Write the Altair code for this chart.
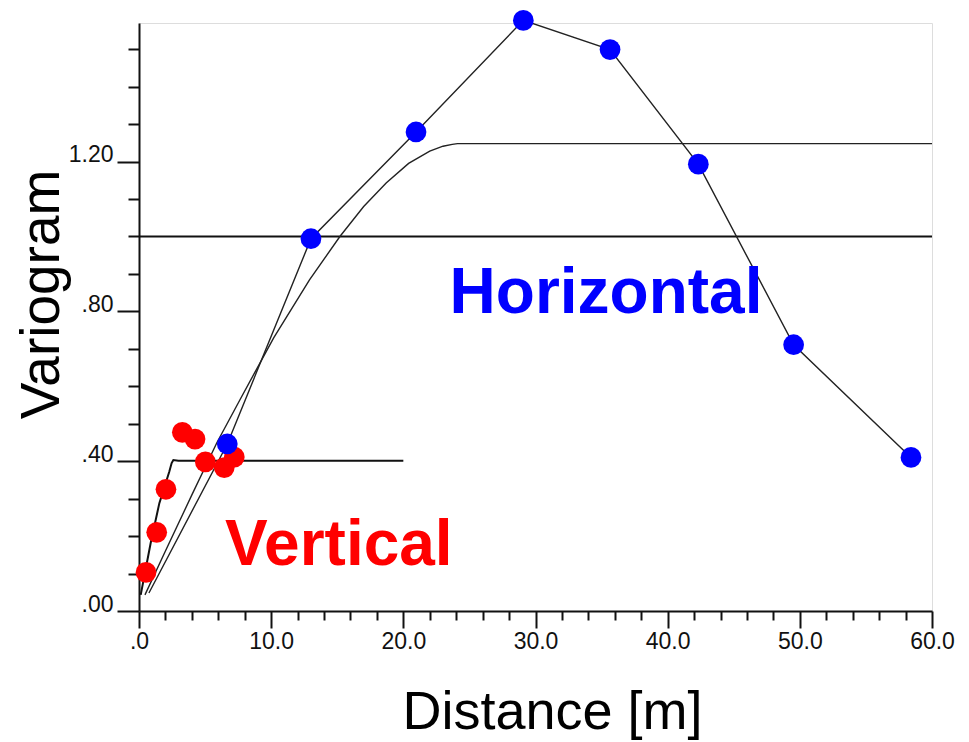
import altair as alt
import pandas as pd

# ---- data ----
h_lag = [6.68, 13.01, 20.96, 29.08, 35.64, 42.32, 49.53, 58.41]
h_gamma = [0.446, 0.994, 1.279, 1.577, 1.499, 1.193, 0.711, 0.410]

v_lag = [0.53, 1.34, 2.04, 3.28, 4.24, 5.02, 6.45, 7.21]
v_gamma = [0.103, 0.210, 0.325, 0.477, 0.459, 0.398, 0.383, 0.411]

# experimental horizontal line (starts near origin, then through the blue points)
h_line_lag = [0.75] + h_lag
h_line_gamma = [0.048] + h_gamma

# horizontal model curve
hm_lag = [0.45, 2.0, 4.0, 5.9, 7.64, 10.2, 12.9, 15.2, 17.0, 18.7, 20.4, 22.0, 23.0, 23.7, 24.1, 60.0]
hm_gamma = [0.043, 0.16, 0.31, 0.45, 0.564, 0.73, 0.884, 1.0, 1.08, 1.143, 1.195, 1.228, 1.241, 1.246, 1.248, 1.248]

# vertical model curve
vm_lag = [0.13, 0.88, 1.54, 2.29, 2.47, 2.60, 2.98, 20.0]
vm_gamma = [0.043, 0.181, 0.288, 0.372, 0.395, 0.403, 0.401, 0.401]

# sill line
sill_lag = [0.0, 60.0]
sill_gamma = [1.0, 1.0]

x_tick_values = [0, 2, 4, 6, 8, 10, 12, 14, 16, 18, 20, 22, 24, 26, 28, 30,
                 32, 34, 36, 38, 40, 42, 44, 46, 48, 50, 52, 54, 56, 58, 60]
y_tick_values = [0.0, 0.1, 0.2, 0.3, 0.4, 0.5, 0.6, 0.7, 0.8, 0.9, 1.0,
                 1.1, 1.2, 1.3, 1.4, 1.5]

labels = ["Horizontal", "Vertical"]
label_lag = [23.5, 6.5]
label_gamma = [0.796, 0.123]

# ---- tables ----
df_h = pd.DataFrame({"lag": h_lag, "gamma": h_gamma})
df_v = pd.DataFrame({"lag": v_lag, "gamma": v_gamma})
df_hl = pd.DataFrame({"lag": h_line_lag, "gamma": h_line_gamma, "o": list(range(len(h_line_lag)))})
df_hm = pd.DataFrame({"lag": hm_lag, "gamma": hm_gamma, "o": list(range(len(hm_lag)))})
df_vm = pd.DataFrame({"lag": vm_lag, "gamma": vm_gamma, "o": list(range(len(vm_lag)))})
df_sill = pd.DataFrame({"lag": sill_lag, "gamma": sill_gamma, "o": [0, 1]})
df_lab = pd.DataFrame({"lag": label_lag, "gamma": label_gamma, "label": labels})

FONT = "Liberation Sans"

x_axis = alt.Axis(
    values=x_tick_values,
    labelExpr="datum.value % 10 === 0 ? (datum.value === 0 ? '.0' : format(datum.value, '.1f')) : ''",
    tickSize={"condition": {"test": "datum.value % 10 === 0", "value": 17}, "value": 9},
    tickWidth=2, tickColor="#111", domainWidth=2, domainColor="#111",
    labelFont=FONT, labelFontSize=23, labelColor="#111", labelPadding=2,
    labelFlush=False, labelOverlap=False, labelBound=False, grid=False,
    title="Distance [m]", titleFont=FONT, titleFontSize=54, titleFontWeight="normal",
    titleColor="#000", titleX=413, titleY=117, titleAlign="center",
    titleBaseline="alphabetic", titleAngle=0,
)
y_axis = alt.Axis(
    values=y_tick_values,
    labelExpr="round(datum.value*10) % 4 === 0 ? (datum.value < 1 ? replace(format(datum.value, '.2f'), '0.', '.') : format(datum.value, '.2f')) : ''",
    tickSize={"condition": {"test": "round(datum.value*10) % 4 === 0", "value": 22}, "value": 11},
    tickWidth=2, tickColor="#111", domainWidth=2, domainColor="#111",
    labelFont=FONT, labelFontSize=23, labelColor="#111", labelPadding=4,
    labelBaseline="alphabetic", labelAlign="right",
    labelFlush=False, labelOverlap=False, labelBound=False, grid=False,
    title="Variogram", titleFont=FONT, titleFontSize=55, titleFontWeight="normal",
    titleColor="#000", titleX=-81, titleY=271, titleAlign="center",
    titleBaseline="alphabetic", titleAngle=270,
)

xs = alt.Scale(domain=[0, 60], nice=False, zero=False)
ys = alt.Scale(domain=[0, 1.57], nice=False, zero=False)

def X():
    return alt.X("lag:Q", scale=xs, axis=x_axis)

def Y():
    return alt.Y("gamma:Q", scale=ys, axis=y_axis)

sill = alt.Chart(df_sill).mark_line(color="#111", strokeWidth=2).encode(x=X(), y=Y(), order="o:Q")
hm = alt.Chart(df_hm).mark_line(color="#222", strokeWidth=1.4).encode(x=X(), y=Y(), order="o:Q")
vm = alt.Chart(df_vm).mark_line(color="#111", strokeWidth=2).encode(x=X(), y=Y(), order="o:Q")
hl = alt.Chart(df_hl).mark_line(color="#222", strokeWidth=1.4).encode(x=X(), y=Y(), order="o:Q")

red_pts = alt.Chart(df_v).mark_circle(color="#ff0000", opacity=1, size=430).encode(x=X(), y=Y())
blue_pts = alt.Chart(df_h).mark_circle(color="#0000ff", opacity=1, size=430).encode(x=X(), y=Y())

text = alt.Chart(df_lab).mark_text(
    font=FONT, fontWeight="bold", fontSize=64, align="left", baseline="alphabetic"
).encode(
    x=X(), y=Y(), text="label:N",
    color=alt.Color("label:N", scale=alt.Scale(domain=labels, range=["#0000ff", "#ff0000"]), legend=None),
)

chart = alt.layer(sill, hm, vm, hl, red_pts, blue_pts, text).properties(
    width=793, height=588,
    autosize=alt.AutoSizeParams(type="none"),
    padding={"left": 139, "top": 23, "right": 37, "bottom": 131},
).configure_view(stroke="transparent").configure(background="white")

chart.save("out.html", embed_options={"renderer": "svg", "actions": False})
